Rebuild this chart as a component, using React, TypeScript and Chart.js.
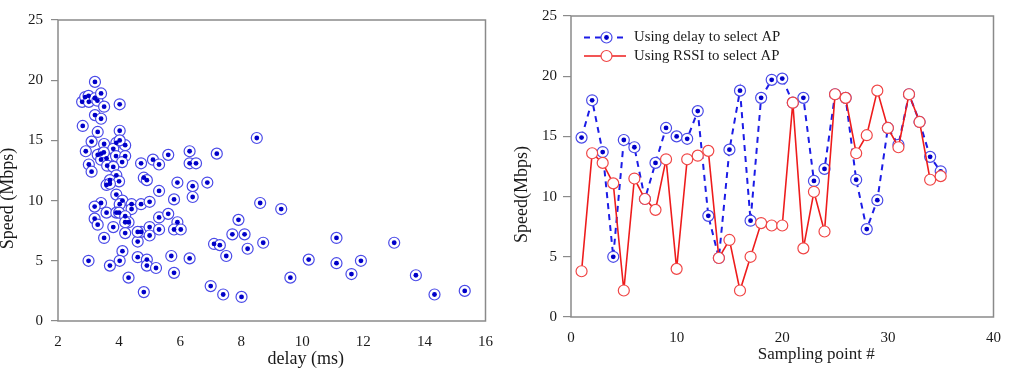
import React, { useEffect, useRef } from "react";
import { Chart, registerables } from "chart.js";

Chart.register(...registerables);

// ---- Left panel: measured speed against delay ----
const delayMs = [
  3.21, 2.79, 2.89, 3.0, 3.01, 3.21, 3.29, 3.41, 3.51, 4.02,
  3.21, 3.41, 2.81, 3.3, 4.02, 3.1, 2.91, 3.51, 3.91, 3.81,
  4.2, 4.02, 3.41, 3.3, 3.59, 3.41, 3.9, 4.2, 4.1, 3.01,
  3.61, 3.81, 3.1, 3.91, 3.7, 4.0, 3.59, 3.91, 3.41, 4.11,
  4.02, 4.41, 4.41, 3.2, 3.59, 3.91, 4.0, 4.2, 4.31, 4.2,
  3.2, 3.3, 3.81, 4.2, 3.51, 4.11, 3.0, 4.02, 3.7, 4.31,
  4.61, 4.72, 4.72, 5.0, 4.61, 5.0, 5.0, 5.31, 5.31, 5.61,
  5.31, 4.81, 4.91, 4.72, 5.11, 5.31, 5.61, 5.91, 5.8, 5.91,
  5.8, 6.02, 4.61, 4.91, 4.91, 5.21, 5.71, 5.8, 4.81, 6.31,
  6.31, 6.31, 6.52, 6.41, 6.41, 6.89, 7.2, 8.51, 8.62, 9.31,
  7.91, 7.71, 8.11, 7.11, 7.3, 8.72, 8.21, 7.51, 7.0, 7.41,
  8.01, 9.61, 10.21, 11.12, 11.12, 11.92, 11.61, 13.01, 13.72, 14.33,
  15.32, 3.7, 3.5,
];
const speedMbps = [
  19.86, 18.2, 18.6, 18.7, 18.2, 18.5, 18.3, 18.9, 17.8, 18.0,
  17.1, 16.8, 16.2, 15.7, 15.8, 14.9, 14.1, 14.7, 14.8, 14.3,
  14.6, 15.0, 13.9, 13.8, 13.5, 13.4, 13.7, 13.7, 13.2, 13.0,
  12.9, 12.8, 12.4, 12.1, 11.7, 11.6, 11.3, 10.5, 9.8, 10.0,
  9.7, 9.7, 9.3, 9.5, 9.0, 9.0, 9.0, 8.7, 8.2, 8.2,
  8.5, 8.0, 7.8, 7.3, 6.9, 5.8, 5.0, 5.0, 4.6, 3.6,
  6.6, 7.4, 9.7, 9.9, 7.4, 7.8, 7.1, 7.6, 8.6, 8.9,
  10.8, 11.9, 11.7, 13.1, 13.4, 13.0, 13.8, 11.5, 10.1, 8.2,
  7.6, 7.6, 5.3, 5.1, 4.6, 4.4, 5.4, 4.0, 2.4, 5.2,
  14.1, 13.1, 13.1, 11.2, 10.3, 11.5, 13.9, 15.2, 9.8, 9.3,
  8.4, 7.2, 7.2, 6.4, 6.3, 6.5, 6.0, 5.4, 2.9, 2.2,
  2.0, 3.6, 5.1, 6.9, 4.8, 5.0, 3.9, 6.5, 3.8, 2.2,
  2.5, 11.4, 14.0,
];
const delayTicks = [2, 4, 6, 8, 10, 12, 14, 16];
const speedTicks = [0, 5, 10, 15, 20, 25];

// ---- Right panel: speed at each sampling point ----
const samplingPoints = [
  1, 2, 3, 4, 5, 6, 7, 8, 9, 10, 11, 12, 13, 14, 15, 16, 17, 18,
  19, 20, 21, 22, 23, 24, 25, 26, 27, 28, 29, 30, 31, 32, 33, 34, 35,
];
const delaySelectSpeed = [
  14.9, 18.0, 13.7, 5.0, 14.7, 14.1, 9.8, 12.8, 15.7, 15.0,
  14.8, 17.1, 8.4, 4.9, 13.9, 18.8, 8.0, 18.2, 19.7, 19.8,
  17.8, 18.2, 11.3, 12.3, 18.5, 18.2, 11.4, 7.3, 9.7, 15.7,
  14.3, 18.5, 16.2, 13.3, 12.1,
];
const rssiSelectSpeed = [
  3.8, 13.6, 12.8, 11.1, 2.2, 11.5, 9.8, 8.9, 13.1, 4.0,
  13.1, 13.4, 13.8, 4.9, 6.4, 2.2, 5.0, 7.8, 7.6, 7.6,
  17.8, 5.7, 10.4, 7.1, 18.5, 18.2, 13.6, 15.1, 18.8, 15.7,
  14.1, 18.5, 16.2, 11.4, 11.7,
];
const sampleTicks = [0, 10, 20, 30, 40];

const SERIF = "'Liberation Serif', 'DejaVu Serif', serif";
const FRAME = "#8a8a8a";
const TEXT = "#1a1a1a";
const RING_BLUE = "#4b4be8";
const DOT_BLUE = "#0000c8";
const LINE_BLUE = "#1c1ce6";
const RED = "#ee1c1c";
const RING_RED = "#f04646";

type TitleSpec = { text: string; dx: number; dy: number; size: number; vertical?: boolean };

// Frame box around the plot area plus free-placed axis titles.
const framePlugin = {
  id: "frameAndTitles",
  afterDraw(chart: any, _args: any, opts: any) {
    const { ctx, chartArea } = chart;
    const { left, right, top, bottom } = chartArea;
    ctx.save();
    ctx.strokeStyle = FRAME;
    ctx.lineWidth = 1.5;
    ctx.strokeRect(left, top, right - left, bottom - top);
    ctx.fillStyle = TEXT;
    ctx.textAlign = "center";
    ctx.textBaseline = "middle";
    (opts.titles || []).forEach((t: TitleSpec) => {
      ctx.font = `${t.size}px ${SERIF}`;
      if (t.vertical) {
        ctx.save();
        ctx.translate(t.dx, (top + bottom) / 2 + t.dy);
        ctx.rotate(-Math.PI / 2);
        ctx.fillText(t.text, 0, 0);
        ctx.restore();
      } else {
        ctx.fillText(t.text, (left + right) / 2 + t.dx, bottom + t.dy);
      }
    });
    ctx.restore();
  },
};

// Legend drawn inside the plot area, with the line style and marker of each series.
const legendPlugin = {
  id: "insetLegend",
  afterDraw(chart: any, _args: any, opts: any) {
    if (!opts || !opts.show) return;
    const { ctx, chartArea } = chart;
    const x0 = chartArea.left + 13;
    const x1 = chartArea.left + 55;
    const mx = chartArea.left + 35.5;
    const tx = chartArea.left + 63;
    const yA = chartArea.top + 21.5;
    const yB = chartArea.top + 40;
    ctx.save();
    // delay series
    ctx.strokeStyle = LINE_BLUE;
    ctx.lineWidth = 2;
    ctx.setLineDash([6, 5]);
    ctx.beginPath();
    ctx.moveTo(x0, yA);
    ctx.lineTo(x1, yA);
    ctx.stroke();
    ctx.setLineDash([]);
    ctx.fillStyle = "#ffffff";
    ctx.strokeStyle = RING_BLUE;
    ctx.lineWidth = 1.2;
    ctx.beginPath();
    ctx.arc(mx, yA, 5.5, 0, Math.PI * 2);
    ctx.fill();
    ctx.stroke();
    ctx.fillStyle = DOT_BLUE;
    ctx.beginPath();
    ctx.arc(mx, yA, 2.4, 0, Math.PI * 2);
    ctx.fill();
    // RSSI series
    ctx.strokeStyle = RED;
    ctx.lineWidth = 1.6;
    ctx.beginPath();
    ctx.moveTo(x0, yB);
    ctx.lineTo(x1, yB);
    ctx.stroke();
    ctx.fillStyle = "#ffffff";
    ctx.strokeStyle = RING_RED;
    ctx.lineWidth = 1.2;
    ctx.beginPath();
    ctx.arc(mx, yB, 5.5, 0, Math.PI * 2);
    ctx.fill();
    ctx.stroke();
    // labels
    ctx.fillStyle = TEXT;
    ctx.font = `14.8px ${SERIF}`;
    ctx.textAlign = "left";
    ctx.textBaseline = "middle";
    ctx.fillText("Using delay to select AP", tx, yA);
    ctx.fillText("Using RSSI to select AP", tx, yB);
    ctx.restore();
  },
};

function axisX(ticks: number[], height: number) {
  return {
    type: "linear" as const,
    min: ticks[0],
    max: ticks[ticks.length - 1],
    afterBuildTicks: (scale: any) => {
      scale.ticks = ticks.map((v) => ({ value: v }));
    },
    afterFit: (scale: any) => {
      scale.height = height;
    },
    grid: { display: false, drawTicks: false },
    border: { display: false },
    ticks: {
      padding: 12,
      color: TEXT,
      font: { family: SERIF, size: 15 },
      maxRotation: 0,
    },
  };
}

function axisY(ticks: number[], width: number, tickLen: number, pad: number) {
  return {
    type: "linear" as const,
    min: ticks[0],
    max: ticks[ticks.length - 1],
    afterBuildTicks: (scale: any) => {
      scale.ticks = ticks.map((v) => ({ value: v }));
    },
    afterFit: (scale: any) => {
      scale.width = width;
    },
    grid: {
      display: true,
      drawOnChartArea: false,
      drawTicks: true,
      tickLength: tickLen,
      color: FRAME,
      lineWidth: 1.2,
    },
    border: { display: false },
    ticks: {
      padding: pad,
      color: TEXT,
      font: { family: SERIF, size: 15 },
    },
  };
}

function DelayScatter() {
  const ref = useRef<HTMLCanvasElement | null>(null);
  useEffect(() => {
    if (!ref.current) return;
    const pts = delayMs.map((d, i) => ({ x: d, y: speedMbps[i] }));
    const chart = new Chart(ref.current, {
      type: "scatter",
      data: {
        datasets: [
          {
            data: pts,
            order: 0,
            pointRadius: 2.4,
            pointBackgroundColor: DOT_BLUE,
            pointBorderWidth: 0,
          },
          {
            data: pts,
            order: 1,
            pointRadius: 5.5,
            pointBackgroundColor: "#ffffff",
            pointBorderColor: RING_BLUE,
            pointBorderWidth: 1.2,
          },
        ],
      },
      options: {
        responsive: false,
        animation: false,
        events: [],
        layout: { padding: { left: 0, top: 20, right: 14, bottom: 0 } },
        scales: {
          x: axisX(delayTicks, 51),
          y: axisY(speedTicks, 58, 7, 8),
        },
        plugins: {
          legend: { display: false },
          tooltip: { enabled: false },
          frameAndTitles: {
            titles: [
              { text: "Speed (Mbps)", dx: 8, dy: 28, size: 18, vertical: true },
              { text: "delay (ms)", dx: 34, dy: 38, size: 18 },
            ],
          },
        } as any,
      },
      plugins: [framePlugin],
    });
    return () => chart.destroy();
  }, []);
  return <canvas ref={ref} width={505} height={372} style={{ display: "block" }} />;
}

function SamplingLines() {
  const ref = useRef<HTMLCanvasElement | null>(null);
  useEffect(() => {
    if (!ref.current) return;
    const delayPts = samplingPoints.map((s, i) => ({ x: s, y: delaySelectSpeed[i] }));
    const rssiPts = samplingPoints.map((s, i) => ({ x: s, y: rssiSelectSpeed[i] }));
    const chart = new Chart(ref.current, {
      type: "line",
      data: {
        datasets: [
          {
            data: rssiPts,
            order: 0,
            borderColor: RED,
            borderWidth: 1.6,
            tension: 0,
            pointRadius: 5.5,
            pointBackgroundColor: "#ffffff",
            pointBorderColor: RING_RED,
            pointBorderWidth: 1.2,
          },
          {
            data: delayPts,
            order: 1,
            showLine: false,
            pointRadius: 2.4,
            pointBackgroundColor: DOT_BLUE,
            pointBorderWidth: 0,
          },
          {
            data: delayPts,
            order: 2,
            borderColor: LINE_BLUE,
            borderWidth: 2,
            borderDash: [6, 5],
            tension: 0,
            pointRadius: 5.5,
            pointBackgroundColor: "#ffffff",
            pointBorderColor: RING_BLUE,
            pointBorderWidth: 1.2,
          },
        ],
      },
      options: {
        responsive: false,
        animation: false,
        events: [],
        layout: { padding: { left: 0, top: 16, right: 11, bottom: 0 } },
        scales: {
          x: axisX(sampleTicks, 55),
          y: axisY(speedTicks, 66, 8, 6),
        },
        plugins: {
          legend: { display: false },
          tooltip: { enabled: false },
          frameAndTitles: {
            titles: [
              { text: "Speed(Mbps)", dx: 17, dy: 28, size: 18, vertical: true },
              { text: "Sampling point #", dx: 34, dy: 38, size: 17 },
            ],
          },
          insetLegend: { show: true },
        } as any,
      },
      plugins: [framePlugin, legendPlugin],
    });
    return () => chart.destroy();
  }, []);
  return <canvas ref={ref} width={508} height={372} style={{ display: "block" }} />;
}

export default function App() {
  return (
    <div
      style={{
        position: "absolute",
        left: 0,
        top: 0,
        width: 1013,
        height: 372,
        background: "#ffffff",
        display: "flex",
      }}
    >
      <DelayScatter />
      <SamplingLines />
    </div>
  );
}
